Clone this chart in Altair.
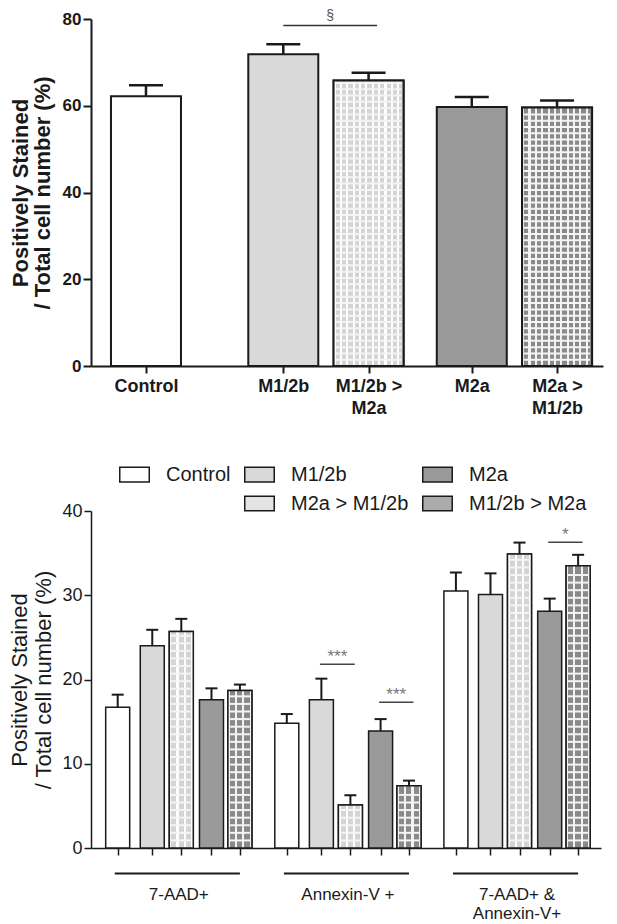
import altair as alt
import numpy as np
import pandas as pd

# ---------------- data: upper panel ----------------
top_groups = ["Control", "M1/2b", "M1/2b > M2a", "M2a", "M2a > M1/2b"]
top_tick_text = [["Control"], ["M1/2b"], ["M1/2b >", "M2a"], ["M2a"], ["M2a >", "M1/2b"]]
top_means = [62.2, 71.9, 65.8, 59.7, 59.6]
top_sem = [2.5, 2.3, 1.8, 2.3, 1.6]
top_sig = [("M1/2b", "M1/2b > M2a", 78.5, "§")]

# ---------------- data: lower panel ----------------
bot_series = ["Control", "M1/2b", "M2a > M1/2b", "M2a", "M1/2b > M2a"]
bot_groups = ["7-AAD+", "Annexin-V +", "7-AAD+ &\nAnnexin-V+"]
means_7aad = [16.7, 24.0, 25.7, 17.6, 18.7]
means_annexin = [14.8, 17.6, 5.1, 13.9, 7.4]
means_both = [30.5, 30.1, 34.9, 28.1, 33.5]
sem_7aad = [1.5, 1.9, 1.5, 1.35, 0.7]
sem_annexin = [1.1, 2.5, 1.15, 1.4, 0.6]
sem_both = [2.2, 2.5, 1.35, 1.5, 1.3]
bot_sig = [
    ("Annexin-V +", "M1/2b", "M2a > M1/2b", 21.8, "***"),
    ("Annexin-V +", "M2a", "M1/2b > M2a", 17.3, "***"),
    ("7-AAD+ &\nAnnexin-V+", "M2a", "M1/2b > M2a", 36.3, "*"),
]

# ---------------- layout (slot positions) ----------------
top_slot = [0, 1.61, 2.61, 3.82, 4.82]
bot_slot = [0, 1.18, 2.17, 3.2, 4.17]
bot_group_step = 5.77

FONT = "Liberation Sans"
INK = "#1a1a1a"
WHITE = "#ffffff"
LIGHT = "#d9d9d9"
DARK = "#9a9a9a"
LCHECK = "#e4e4e4"
DCHECK = "#ababab"
LSQ = "#d4d4d4"   # light check squares
DSQ = "#8a8a8a"   # dark check squares


def stripes(square, line, period_frac, line_frac):
    """Vertical stripe gradient (checker columns)."""
    stops = []
    k = 0.0
    while k < 1.0 - 1e-9:
        a = k
        b = min(1.0, k + period_frac * line_frac)
        c = min(1.0, k + period_frac)
        stops += [{"offset": a, "color": line}, {"offset": b, "color": line},
                  {"offset": b, "color": square}, {"offset": c, "color": square}]
        k = c
    return alt.LinearGradient(gradient="linear", x1=0, x2=1, y1=0, y2=0, stops=stops)


# ================= upper panel =================
TW, TH = 512, 347
top_df = pd.DataFrame({
    "grp": top_groups,
    "pos": top_slot,
    "mean": top_means,
    "hi": [m + s for m, s in zip(top_means, top_sem)],
})
tpos = dict(zip(top_groups, top_slot))
top_sig_df = pd.DataFrame([
    {"pos": tpos[a], "x2": tpos[b] + 0.1, "xm": (tpos[a] + tpos[b] + 0.1) / 2, "mean": lvl, "t": t}
    for a, b, lvl, t in top_sig
])
# horizontal checker lines for the patterned bars
top_hl = pd.DataFrame([
    {"pos": p, "mean": y}
    for g, p, m in zip(top_groups, top_slot, top_means) if ">" in g
    for y in np.arange(1.45, m - 0.5, 1.45)
])

label_expr = ""
for p, lines in zip(top_slot, top_tick_text):
    lit = "[" + ",".join("'" + l + "'" for l in lines) + "]" if len(lines) > 1 else "'" + lines[0] + "'"
    label_expr += f"abs(datum.value - {p}) < 0.01 ? {lit} : "
label_expr += "''"

tx = alt.Scale(domain=[-0.586, 5.30], nice=False, zero=False)
ty = alt.Scale(domain=[0, 80], nice=False)
top_xaxis = alt.Axis(
    values=top_slot, labelExpr=label_expr, title=None, grid=False,
    tickSize=7, tickWidth=2, tickColor=INK, domainColor=INK, domainWidth=2,
    labelFont=FONT, labelFontSize=18, labelFontWeight="bold", labelColor=INK,
    labelPadding=4, labelLineHeight=22, labelOverlap=False, labelFlush=False)
top_yaxis = alt.Axis(
    values=[0, 20, 40, 60, 80], grid=False, tickSize=8, tickWidth=2, tickColor=INK,
    domainColor=INK, domainWidth=2, labelFont=FONT, labelFontSize=17,
    labelFontWeight="bold", labelColor=INK, labelPadding=2,
    title=["Positively Stained", "/ Total cell number (%)"], titleFont=FONT,
    titleFontSize=22, titleFontWeight="bold", titleColor=INK, titleLineHeight=22,
    titlePadding=8)

X_T = alt.X("pos:Q", scale=tx, axis=top_xaxis)
Y_T = alt.Y("mean:Q", scale=ty, axis=top_yaxis)

top_bars = alt.Chart(top_df).mark_bar(size=70, stroke=INK, strokeWidth=2, opacity=1).encode(
    x=X_T, y=Y_T,
    fill=alt.Fill("grp:N", scale=alt.Scale(domain=top_groups, range=[WHITE, LIGHT, LCHECK, DARK, DCHECK]), legend=None),
)
top_lcheck = alt.Chart(top_df).transform_filter(alt.datum.grp == "M1/2b > M2a").mark_bar(
    size=70, stroke=INK, strokeWidth=2, opacity=1, fill=stripes(LSQ, WHITE, 1 / 11, 0.33)).encode(x=X_T, y=Y_T)
top_dcheck = alt.Chart(top_df).transform_filter(alt.datum.grp == "M2a > M1/2b").mark_bar(
    size=70, stroke=INK, strokeWidth=2, opacity=1, fill=stripes(DSQ, "#f2f2f2", 1 / 11, 0.33)).encode(x=X_T, y=Y_T)
top_lines = alt.Chart(top_hl).mark_tick(orient="horizontal", size=66, thickness=2, color="#f4f4f4", opacity=1).encode(
    x=X_T, y=Y_T)
top_stem = alt.Chart(top_df).mark_rule(color=INK, strokeWidth=2.5, opacity=1).encode(x=X_T, y=Y_T, y2="hi:Q")
top_cap = alt.Chart(top_df).mark_tick(orient="horizontal", size=34, thickness=2.5, color=INK, opacity=1).encode(
    x=X_T, y=alt.Y("hi:Q", scale=ty, axis=top_yaxis))
top_sig_rule = alt.Chart(top_sig_df).mark_rule(color="#333333", strokeWidth=1.5).encode(x=X_T, x2="x2:Q", y=Y_T)
top_sig_text = alt.Chart(top_sig_df).mark_text(font=FONT, fontSize=14, dy=-6, baseline="alphabetic", color="#555555").encode(
    x=alt.X("xm:Q", scale=tx, axis=top_xaxis), y=Y_T, text="t:N")

top_chart = alt.layer(top_bars, top_lcheck, top_dcheck, top_lines, top_stem, top_cap,
                      top_sig_rule, top_sig_text).properties(width=TW, height=TH)

# ================= lower panel =================
BW, BH = 510, 337
all_means = [means_7aad, means_annexin, means_both]
all_sems = [sem_7aad, sem_annexin, sem_both]
rows = []
for gi, g in enumerate(bot_groups):
    for si, s in enumerate(bot_series):
        m = all_means[gi][si]
        rows.append({"group": g, "series": s, "pos": gi * bot_group_step + bot_slot[si],
                     "mean": m, "hi": m + all_sems[gi][si]})
bot_df = pd.DataFrame(rows)
bpos = {(r["group"], r["series"]): r["pos"] for r in rows}
grp_df = pd.DataFrame([
    {"group": g, "pos": gi * bot_group_step + bot_slot[0] - 0.1,
     "gx2": gi * bot_group_step + bot_slot[-1],
     "gxm": gi * bot_group_step + (bot_slot[0] + bot_slot[-1]) / 2}
    for gi, g in enumerate(bot_groups)
])
bot_sig_df = pd.DataFrame([
    {"pos": bpos[(g, a)] - 0.05, "x2": bpos[(g, b)] + 0.15,
     "xm": (bpos[(g, a)] + bpos[(g, b)] + 0.1) / 2, "mean": lvl, "t": t}
    for g, a, b, lvl, t in bot_sig
])
bot_hl = pd.DataFrame([
    {"pos": r["pos"], "mean": y}
    for r in rows if ">" in r["series"]
    for y in np.arange(0.9, r["mean"] - 0.3, 0.9)
])

bx = alt.Scale(domain=[-0.74, 16.32], nice=False, zero=False)
by = alt.Scale(domain=[0, 40], nice=False)
bot_xaxis = alt.Axis(
    values=[r["pos"] for r in rows], labels=False, title=None, grid=False,
    tickSize=7, tickWidth=1.5, tickColor=INK, domainColor=INK, domainWidth=1.5)
bot_yaxis = alt.Axis(
    values=[0, 10, 20, 30, 40], grid=False, tickSize=7, tickWidth=1.5, tickColor=INK,
    domainColor=INK, domainWidth=1.5, labelFont=FONT, labelFontSize=18,
    labelColor=INK, labelPadding=2,
    title=["Positively Stained", "/ Total cell number (%)"], titleFont=FONT,
    titleFontSize=22, titleFontWeight="normal", titleColor=INK, titleLineHeight=24,
    titlePadding=6)

X_B = alt.X("pos:Q", scale=bx, axis=bot_xaxis)
Y_B = alt.Y("mean:Q", scale=by, axis=bot_yaxis)

# legend order (filled column by column, two rows)
legend_domain = ["Control", " ", "M1/2b", "M2a > M1/2b", "M2a", "M1/2b > M2a"]
legend_fill = [WHITE, "rgba(0,0,0,0)", LIGHT, LCHECK, DARK, DCHECK]
legend_stroke = [INK, "rgba(0,0,0,0)", INK, INK, INK, INK]
leg = alt.Legend(title=None, orient="none", legendX=28, legendY=-52, columns=3,
                 columnPadding=10, rowPadding=3, symbolType="M-1,-0.5L1,-0.5L1,0.5L-1,0.5Z",
                 symbolSize=870, symbolStrokeWidth=1.5, labelFont=FONT, labelFontSize=20,
                 labelColor=INK, labelOffset=16, padding=0, labelLimit=300)

bot_bars = alt.Chart(bot_df).mark_bar(size=24, strokeWidth=1.5, opacity=1).encode(
    x=X_B, y=Y_B,
    fill=alt.Fill("series:N", scale=alt.Scale(domain=legend_domain, range=legend_fill), legend=leg),
    stroke=alt.Stroke("series:N", scale=alt.Scale(domain=legend_domain, range=legend_stroke), legend=leg),
)
bot_lcheck = alt.Chart(bot_df).transform_filter(alt.datum.series == "M2a > M1/2b").mark_bar(
    size=24, stroke=INK, strokeWidth=1.5, opacity=1, fill=stripes(LSQ, WHITE, 0.3, 0.3)).encode(x=X_B, y=Y_B)
bot_dcheck = alt.Chart(bot_df).transform_filter(alt.datum.series == "M1/2b > M2a").mark_bar(
    size=24, stroke=INK, strokeWidth=1.5, opacity=1, fill=stripes(DSQ, "#f2f2f2", 0.3, 0.3)).encode(x=X_B, y=Y_B)
bot_lines = alt.Chart(bot_hl).mark_tick(orient="horizontal", size=21, thickness=2, color="#f4f4f4", opacity=1).encode(
    x=X_B, y=Y_B)
bot_stem = alt.Chart(bot_df).mark_rule(color=INK, strokeWidth=2, opacity=1).encode(x=X_B, y=Y_B, y2="hi:Q")
bot_cap = alt.Chart(bot_df).mark_tick(orient="horizontal", size=12, thickness=2, color=INK, opacity=1).encode(
    x=X_B, y=alt.Y("hi:Q", scale=by, axis=bot_yaxis))
bot_sig_rule = alt.Chart(bot_sig_df).mark_rule(color="#444444", strokeWidth=1.5).encode(x=X_B, x2="x2:Q", y=Y_B)
bot_sig_text = alt.Chart(bot_sig_df).mark_text(font=FONT, fontSize=17, dy=-2, baseline="alphabetic", color="#777777").encode(
    x=alt.X("xm:Q", scale=bx, axis=bot_xaxis), y=Y_B, text="t:N")
grp_rule = alt.Chart(grp_df).mark_rule(color=INK, strokeWidth=2).encode(
    x=X_B, x2="gx2:Q", y=alt.value(BH + 25.6))
grp_text = alt.Chart(grp_df).mark_text(font=FONT, fontSize=17, baseline="alphabetic", lineBreak="\n",
                                       lineHeight=19, color=INK).encode(
    x=alt.X("gxm:Q", scale=bx, axis=bot_xaxis), y=alt.value(BH + 52), text="group:N")

bot_chart = alt.layer(bot_bars, bot_lcheck, bot_dcheck, bot_lines, bot_stem, bot_cap,
                      bot_sig_rule, bot_sig_text, grp_rule, grp_text).properties(width=BW, height=BH)

chart = alt.vconcat(top_chart, bot_chart, spacing=42).resolve_scale(
    x="independent", y="independent", fill="independent", stroke="independent"
).properties(padding={"left": 0, "top": 0, "right": 5, "bottom": 0}).configure_view(stroke=None)

chart.save("out.html", embed_options={"renderer": "svg", "actions": False})
